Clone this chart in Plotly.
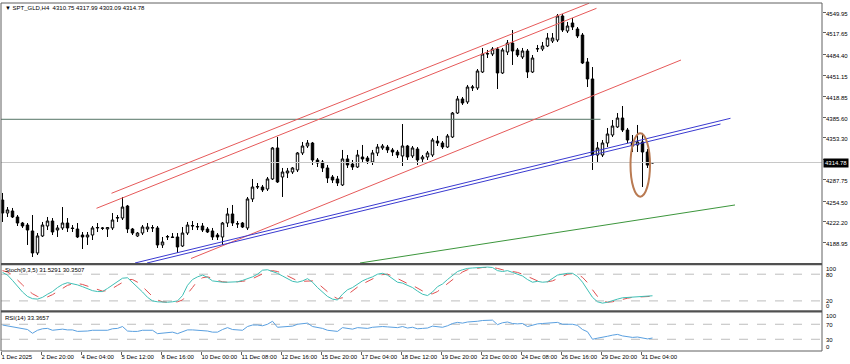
import plotly.graph_objects as go

# ---------------- data ----------------
open_ = [4256.1,4235.7,4238.9,4229.5,4220.1,4216.9,4207.6,4173.2,4199.8,4215.4,
         4223.2,4209.1,4212.3,4220.1,4212.3,4210.7,4201.3,4198.2,4201.3,4212.3,
         4212.3,4210.7,4212.3,4227.9,4227.9,4246.7,4210.7,4199.8,4204.4,4210.7,
         4212.3,4212.3,4185.7,4198.2,4198.2,4198.2,4184.1,4204.4,4215.4,4213.8,
         4215.4,4210.7,4207.6,4201.3,4198.2,4220.1,4234.2,4218.5,4220.1,4212.3,
         4257.7,4276.4,4276.4,4273.3,4289.0,4337.5,4292.1,4298.4,4299.9,4303.1,
         4329.7,4340.6,4345.3,4318.7,4315.6,4306.2,4292.1,4289.0,4279.6,4320.3,
         4312.4,4307.7,4323.4,4321.8,4315.6,4329.7,4337.5,4339.0,4334.4,4331.2,
         4325.0,4340.6,4325.0,4335.9,4320.3,4323.4,4326.5,4348.4,4345.3,4339.0,
         4354.7,4392.2,4414.2,4409.5,4431.4,4431.4,4456.4,4484.6,4484.6,4492.4,
         4454.9,4487.7,4501.8,4490.9,4479.9,4489.3,4456.4,4492.4,4492.4,4497.1,
         4504.9,4506.5,4544.1,4520.6,4533.1,4523.7,4514.3,4472.1,4445.5,4326.5,
         4326.5,4345.3,4357.8,4370.4,4384.4,4365.6,4346.9,4342.2,4346.9,4331.2,
         4313.9]
high = [4267.1,4245.1,4243.6,4232.6,4221.7,4220.1,4232.6,4204.4,4221.7,4229.5,
        4227.9,4216.9,4245.1,4227.9,4216.9,4220.1,4206.0,4206.0,4215.4,4220.1,
        4213.8,4213.8,4235.7,4232.6,4260.8,4248.3,4212.3,4206.0,4216.9,4220.1,
        4216.9,4215.4,4198.2,4201.3,4204.4,4204.4,4213.8,4221.7,4223.2,4220.1,
        4220.1,4213.8,4212.3,4204.4,4221.7,4243.6,4248.3,4223.2,4221.7,4260.8,
        4289.0,4282.7,4279.6,4292.1,4339.0,4354.7,4306.2,4306.2,4307.7,4331.2,
        4346.9,4350.0,4346.9,4321.8,4318.7,4310.9,4295.2,4293.7,4334.4,4326.5,
        4318.7,4334.4,4342.2,4325.0,4334.4,4343.7,4343.7,4342.2,4337.5,4334.4,
        4375.0,4342.2,4340.6,4339.0,4326.5,4332.8,4353.1,4356.3,4348.4,4359.4,
        4393.8,4418.9,4417.3,4436.1,4436.1,4461.1,4494.0,4490.9,4495.5,4495.5,
        4494.0,4506.5,4522.1,4494.0,4494.0,4492.4,4483.0,4498.7,4503.4,4517.4,
        4517.4,4547.2,4547.2,4534.7,4540.9,4526.8,4517.4,4478.3,4464.2,4346.9,
        4350.0,4368.8,4381.3,4392.2,4403.2,4368.8,4357.8,4373.5,4361.0,4335.9,
        4315.5]
low = [4221.7,4229.5,4227.9,4215.4,4212.3,4185.7,4166.9,4170.0,4198.2,4209.1,
       4201.3,4198.2,4209.1,4206.0,4206.0,4196.6,4179.4,4185.7,4193.5,4206.0,
       4209.1,4198.2,4209.1,4221.7,4224.8,4204.4,4201.3,4198.2,4201.3,4206.0,
       4206.0,4181.0,4181.0,4193.5,4196.6,4173.2,4182.6,4201.3,4209.1,4209.1,
       4206.0,4204.4,4193.5,4193.5,4185.7,4213.8,4215.4,4212.3,4212.3,4209.1,
       4253.0,4273.3,4268.6,4270.2,4287.4,4282.7,4260.8,4290.5,4296.8,4299.9,
       4326.5,4337.5,4310.9,4307.7,4299.9,4282.7,4282.7,4278.0,4278.0,4306.2,
       4303.1,4306.2,4314.0,4312.4,4310.9,4325.0,4334.4,4329.7,4325.0,4321.8,
       4309.3,4318.7,4321.8,4310.9,4315.6,4318.7,4323.4,4340.6,4335.9,4337.5,
       4353.1,4390.7,4404.8,4406.4,4426.7,4428.3,4454.9,4478.3,4481.4,4429.8,
       4453.3,4483.0,4467.4,4479.9,4476.8,4447.0,4454.9,4487.7,4489.3,4495.5,
       4501.8,4503.4,4519.0,4517.4,4522.1,4509.6,4468.9,4432.9,4303.1,4315.6,
       4323.4,4339.0,4354.7,4368.8,4362.5,4345.3,4331.2,4331.2,4276.4,4306.2,
       4313.2]
close = [4235.7,4240.5,4229.5,4220.1,4215.4,4209.1,4173.2,4199.8,4216.9,4223.2,
         4206.0,4212.3,4220.1,4212.3,4211.5,4198.2,4198.2,4201.3,4212.3,4213.0,
         4211.8,4213.0,4224.8,4228.5,4245.1,4210.7,4204.4,4204.4,4213.8,4213.8,
         4212.8,4185.7,4190.4,4198.8,4197.6,4182.6,4204.4,4216.9,4216.0,4214.5,
         4209.1,4206.0,4198.2,4198.2,4220.1,4234.2,4220.1,4219.0,4213.8,4257.7,
         4276.4,4277.0,4271.8,4289.0,4337.5,4284.3,4299.9,4301.5,4306.2,4329.7,
         4340.6,4345.3,4318.7,4314.0,4306.2,4290.5,4287.4,4282.7,4320.3,4310.9,
         4307.7,4326.5,4320.3,4317.1,4329.7,4339.0,4340.6,4334.4,4331.2,4326.5,
         4340.6,4323.4,4337.5,4318.7,4323.4,4329.7,4350.0,4345.3,4339.0,4356.3,
         4392.2,4414.2,4407.9,4432.9,4432.9,4458.0,4484.6,4485.2,4492.4,4454.9,
         4490.9,4501.8,4489.3,4483.0,4489.3,4456.4,4478.3,4493.0,4497.1,4509.6,
         4509.6,4544.1,4522.1,4528.4,4526.8,4512.8,4470.5,4445.5,4326.5,4337.5,
         4345.3,4359.4,4371.9,4384.4,4365.6,4350.0,4340.6,4346.9,4331.2,4310.75,
         4314.78]

stoch_main = [84,78,66,52,40,30,25,24,28,35,41,50,57,61,59,56,52,47,43,41,
              41,48,56,64,71,72,62,52,40,28,20,18,17,17,18,20,32,55,68,74,
              78,73,65,63,62,62,63,63,66,70,74,80,89,90,86,82,76,70,64,62,
              65,70,62,50,40,30,24,22,35,45,50,58,65,70,74,80,82,78,70,62,
              60,55,50,42,35,32,40,52,58,68,78,86,90,93,94,95,96,96,95,88,
              86,88,84,80,76,68,62,64,62,63,70,78,80,82,82,75,62,45,28,18,
              15,17,21,24,27,28,29,29.5,30,31,31.5291]
stoch_signal = [88,85,78,68,56,45,36,30,27,29,34,41,48,55,58,59,57,53,49,45,
                42,43,48,55,62,68,68,62,52,40,30,22,18,17,17,18,22,35,50,65,
                72,74,71,66,63,62,62,63,64,66,70,75,81,86,88,86,82,76,70,65,
                64,65,65,60,50,40,31,25,27,34,43,51,58,64,70,75,79,80,76,70,
                64,59,55,49,42,36,36,41,50,59,68,77,85,90,92,94,95,95,95,93,
                90,87,86,84,80,75,69,65,63,63,65,70,76,80,81,80,73,61,45,30,
                20,17,18,21,24,26,28,29,29.5,30,30.3507]
rsi = [68,66,64,61,60,56,46,54,58,59,54,55,57,55,55,51,51,52,54,54,
       54,54,58,59,64,52,51,51,54,54,54,45,47,49,49,45,51,55,55,54,
       53,52,49,49,56,61,56,56,54,64,68,68,66,70,78,62,63,64,65,70,
       72,73,64,62,59,54,53,51,61,58,57,61,60,59,62,64,64,63,62,61,
       64,60,62,58,59,60,65,64,62,66,72,75,73,76,76,78,80,80,81,69,
       74,76,72,71,72,64,68,71,72,73,72,75,70,71,70,67,56,50,30,33,
       35,38,41,43,39,36,35,36,33,31,33.3657]

tick_idx = [0,8,16,24,32,40,48,56,64,72,80,88,96,104,112,120,128]
tick_text = ["1 Dec 2025","2 Dec 20:00","4 Dec 04:00","5 Dec 12:00","8 Dec 16:00",
             "10 Dec 00:00","11 Dec 08:00","12 Dec 16:00","15 Dec 20:00","17 Dec 04:00",
             "18 Dec 12:00","19 Dec 20:00","23 Dec 00:00","24 Dec 08:00","26 Dec 16:00",
             "29 Dec 20:00","31 Dec 04:00"]
price_ticks = [4549.95,4517.65,4484.40,4451.15,4418.85,4385.60,4353.30,
               4320.05,4287.75,4254.50,4222.20,4188.95,4156.65]
last_price = 4314.78
hline_price = 4382.4
hline_end = 119.6

# trend line end points (bar index, price)
red1_x = [21.8, 117.3]; red1_y = [4266.6, 4564.0]
red2_x = [18.8, 118.8]; red2_y = [4243.1, 4556.1]
red3_x = [37.7, 135.7]; red3_y = [4164.5, 4475.2]
blue1_x = [26.5, 145.6]; blue1_y = [4157.5, 4384.0]
blue2_x = [28.9, 143.6]; blue2_y = [4157.5, 4375.0]
green_x = [71.5, 146.5]; green_y = [4157.5, 4248.3]
ellipse_x = [125.6, 129.5]; ellipse_y = [4261.3, 4360.5]

header = "SPT_GLD,H4  4310.75 4317.99 4303.09 4314.78"
stoch_label = "Stoch(9,3,5) 31.5291 30.3507"
rsi_label = "RSI(14) 33.3657"

# ---------------- figure ----------------
W, H = 850, 364
ML, MR, MT, MB = 1, 28, 3, 13
PW, PH = W - ML - MR, H - MT - MB

def px_x(x):
    return (x - ML) / PW

def px_y(y):
    return (H - MB - y) / PH

idx = list(range(len(close)))
FONT = "Liberation Sans"
FS = 6

fig = go.Figure()
fig.add_trace(go.Candlestick(
    x=idx, open=open_, high=high, low=low, close=close,
    increasing=dict(line=dict(color="black", width=1), fillcolor="white"),
    decreasing=dict(line=dict(color="black", width=1), fillcolor="black"),
    whiskerwidth=0, showlegend=False, hoverinfo="skip", xaxis="x", yaxis="y"))

def seg(xs, ys, color, width=1, dash=None, axis="y"):
    fig.add_trace(go.Scatter(x=xs, y=ys, mode="lines", showlegend=False,
                             hoverinfo="skip", line=dict(color=color, width=width, dash=dash),
                             xaxis="x", yaxis=axis))

seg([-0.3, 163.9], [last_price, last_price], "#c8c8c8")
seg([-0.3, hline_end], [hline_price, hline_price], "#557565")
seg(red1_x, red1_y, "#e65a5a")
seg(red2_x, red2_y, "#e65a5a")
seg(red3_x, red3_y, "#e65a5a")
seg(blue1_x, blue1_y, "#3a3ad0")
seg(blue2_x, blue2_y, "#3a3ad0")
seg(green_x, green_y, "#3c963c")

# indicator level lines
for v in (20, 80):
    seg([-0.3, 163.9], [v, v], "#bdbdbd", 1, "dash", "y2")
for v in (30, 70):
    seg([-0.3, 163.9], [v, v], "#bdbdbd", 1, "dash", "y3")

seg(idx, stoch_signal, "#e05050", 1, "dash", "y2")
seg(idx, stoch_main, "#3fbfb5", 1, None, "y2")
seg(idx, rsi, "#5aa0e0", 1, None, "y3")

shapes = []
shapes.append(dict(type="circle", xref="x", yref="y",
                   x0=ellipse_x[0], x1=ellipse_x[1], y0=ellipse_y[0], y1=ellipse_y[1],
                   line=dict(color="#b97a52", width=2)))
# frame and separators
frame = "#606060"
shapes += [
    dict(type="line", xref="paper", yref="paper", x0=0, x1=0, y0=0, y1=1, line=dict(color=frame, width=1)),
    dict(type="line", xref="paper", yref="paper", x0=1, x1=1, y0=0, y1=1, line=dict(color=frame, width=1)),
    dict(type="line", xref="paper", yref="paper", x0=0, x1=1, y0=1, y1=1, line=dict(color=frame, width=1)),
    dict(type="line", xref="paper", yref="paper", x0=0, x1=1, y0=0, y1=0, line=dict(color=frame, width=1)),
    dict(type="rect", xref="paper", yref="paper", x0=0, x1=1, y0=px_y(265.3), y1=px_y(263),
         fillcolor="#505050", line=dict(width=0)),
    dict(type="rect", xref="paper", yref="paper", x0=0, x1=1, y0=px_y(312.5), y1=px_y(310.2),
         fillcolor="#505050", line=dict(width=0)),
]

txt = dict(family=FONT, size=FS, color="black")
ann = []
ann.append(dict(x=px_x(3), y=px_y(7.5), xref="paper", yref="paper", xanchor="left", yanchor="middle",
                text="\u25BC " + header, showarrow=False, font=txt))
ann.append(dict(x=px_x(3), y=px_y(270), xref="paper", yref="paper", xanchor="left", yanchor="middle",
                text=stoch_label, showarrow=False, font=txt))
ann.append(dict(x=px_x(3), y=px_y(317.5), xref="paper", yref="paper", xanchor="left", yanchor="middle",
                text=rsi_label, showarrow=False, font=txt))
# price scale labels (placed on the main price axis)
for v in price_ticks:
    ann.append(dict(x=px_x(825), y=v, xref="paper", yref="y", xanchor="left", yanchor="middle",
                    yshift=-1.5, text=f"{v:.2f}", showarrow=False, font=txt, borderpad=0))
# indicator scale labels
for t, yy in [("100", 268.5), ("80", 274.5), ("20", 300.5), ("0", 306),
              ("100", 316), ("70", 324.5), ("30", 339.5), ("0", 347)]:
    ann.append(dict(x=px_x(825), y=px_y(yy), xref="paper", yref="paper", xanchor="left",
                    yanchor="middle", text=t, showarrow=False, font=txt, borderpad=0))
# current price box (drawn last, on top)
ann.append(dict(x=px_x(823), y=last_price, xref="paper", yref="y", xanchor="left", yanchor="middle",
                text=f"{last_price:.2f}", showarrow=False, bgcolor="black", borderpad=1,
                font=dict(family=FONT, size=FS, color="white")))

d_main = [px_y(263), 1.0]
d_sto = [px_y(309.8), px_y(265.3)]
d_rsi = [0.0, px_y(313)]

fig.update_layout(
    width=W, height=H, margin=dict(l=ML, r=MR, t=MT, b=MB, autoexpand=False),
    paper_bgcolor="white", plot_bgcolor="white", showlegend=False,
    font=dict(family=FONT, size=FS, color="black"),
    xaxis=dict(range=[-0.3, 163.9], anchor="y3", showgrid=False, zeroline=False,
               automargin=False, rangeslider=dict(visible=False),
               tickmode="array", tickvals=[i - 0.3 for i in tick_idx], ticktext=tick_text,
               ticks="outside", ticklen=3, tickcolor="#606060", tickangle=0,
               ticklabelposition="outside right",
               tickfont=txt, showline=False),
    yaxis=dict(domain=d_main, range=[4157.5, 4564.4], side="right", anchor="x",
               automargin=False, showgrid=False, zeroline=False, tickmode="array",
               tickvals=price_ticks, ticks="outside", ticklen=3, tickcolor="#606060",
               showticklabels=False),
    yaxis2=dict(domain=d_sto, range=[0, 100], side="right", anchor="x", showgrid=False,
                automargin=False, zeroline=False, showticklabels=False, ticks=""),
    yaxis3=dict(domain=d_rsi, range=[-1.2, 100], side="right", anchor="x", showgrid=False,
                automargin=False, zeroline=False, showticklabels=False, ticks=""),
    shapes=shapes, annotations=ann,
)

fig.write_html("out.html", config={"displayModeBar": False, "staticPlot": True},
               post_script="document.body.style.margin='0';document.body.style.padding='0';"
                           "document.body.style.overflow='hidden';")
